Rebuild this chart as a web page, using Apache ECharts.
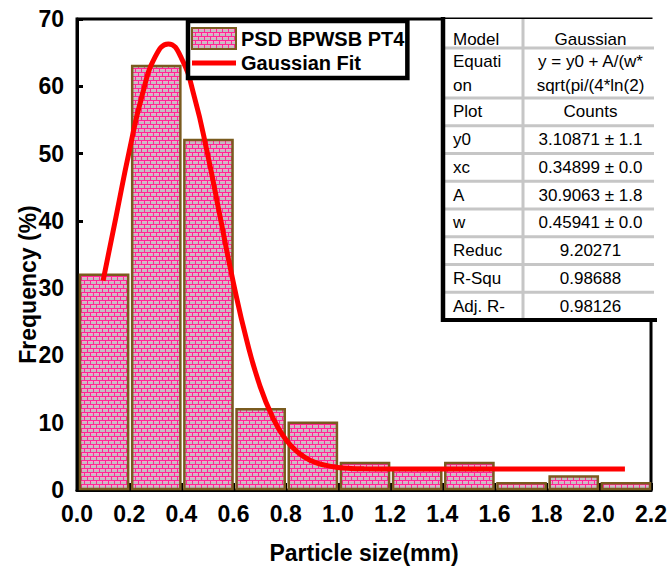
<!DOCTYPE html>
<html><head><meta charset="utf-8">
<script src="https://cdn.jsdelivr.net/npm/echarts@6/dist/echarts.min.js"></script>
<style>html,body{margin:0;padding:0;background:#fff}#c{width:670px;height:569px}</style>
</head><body><div id="c"></div>
<script>
// ---- data ----
const binStart = [0.0, 0.2, 0.4, 0.6, 0.8, 1.0, 1.2, 1.4, 1.6, 1.8, 2.0];
const binEnd   = [0.2, 0.4, 0.6, 0.8, 1.0, 1.2, 1.4, 1.6, 1.8, 2.0, 2.2];
const frequency = [32, 63, 52, 12, 10, 4, 3, 4, 1, 2, 1];
const fitX = [0.10, 0.15, 0.20, 0.25, 0.30, 0.35, 0.40, 0.45, 0.50, 0.55, 0.60, 0.65, 0.70, 0.75, 0.80, 0.85, 0.90, 0.95, 1.00, 1.05, 1.10, 1.20, 1.30, 1.50, 1.70, 1.90, 2.10];
const fitY = [31.1, 40.7, 50.3, 58.7, 64.4, 66.3, 64.2, 58.4, 50.0, 40.3, 30.7, 22.3, 15.6, 10.8, 7.5, 5.5, 4.3, 3.7, 3.35, 3.2, 3.15, 3.12, 3.11, 3.11, 3.11, 3.11, 3.11];
const barName = 'PSD BPWSB PT4';
const fitName = 'Gaussian Fit';
const xAxisTitle = 'Particle size(mm)';
const yAxisTitle = 'Frequency (%)';
const tableLabels = ['Model', 'Equati\non', 'Plot', 'y0', 'xc', 'A', 'w', 'Reduc', 'R-Squ', 'Adj. R-'];
const tableValues = ['Gaussian', 'y = y0 + A/(w*\nsqrt(pi/(4*ln(2)', 'Counts', '3.10871 \u00b1 1.1', '0.34899 \u00b1 0.0', '30.9063 \u00b1 1.8', '0.45941 \u00b1 0.0', '9.20271', '0.98688', '0.98126'];

// ---- brick pattern ----
function makePattern() {
  const c = document.createElement('canvas');
  c.width = 12; c.height = 8;
  const g = c.getContext('2d');
  g.fillStyle = '#f7a3cd'; g.fillRect(0, 0, 12, 8);
  g.fillStyle = '#ff2696';
  g.fillRect(0, 0, 12, 1); g.fillRect(0, 4, 12, 1);
  g.fillRect(0, 1, 1, 3); g.fillRect(6, 1, 1, 3);
  g.fillRect(3, 5, 1, 3); g.fillRect(9, 5, 1, 3);
  g.fillStyle = '#c4bec1';
  g.fillRect(1, 2, 5, 2); g.fillRect(7, 2, 5, 2);
  g.fillRect(0, 6, 3, 2); g.fillRect(4, 6, 5, 2); g.fillRect(10, 6, 2, 2);
  return c.toDataURL();
}
const patternURL = makePattern();
const brickFill = { image: patternURL, repeat: 'repeat' };
const brown = '#7a5b1f';
const FONT = '"Liberation Sans", Arial, sans-serif';

const chart = echarts.init(document.getElementById('c'), null, { renderer: 'svg' });

// table graphic
const tLeft = 443, tRight = 654, tMid = 523, tTop = 19;
const rowH = [29, 50, 27.75, 27.75, 27.75, 27.75, 27.75, 27.75, 27.75, 27.75];
const tableEls = [];
let yy = tTop;
const bounds = [];
rowH.forEach(h => { bounds.push([yy, yy + h]); yy += h; });
const tBottom = yy;
tableEls.push({ type: 'rect', shape: { x: tLeft, y: tTop, width: tRight - tLeft, height: tBottom - tTop }, style: { fill: '#fff' } });
bounds.slice(0, -1).forEach(b => {
  tableEls.push({ type: 'line', shape: { x1: tLeft, y1: b[1], x2: tRight, y2: b[1] }, style: { stroke: '#c6c6c6', lineWidth: 3 } });
});
tableEls.push({ type: 'line', shape: { x1: tMid, y1: tTop, x2: tMid, y2: tBottom }, style: { stroke: '#c6c6c6', lineWidth: 3 } });
tableEls.push({ type: 'line', shape: { x1: tLeft, y1: tTop - 2, x2: tLeft, y2: tBottom + 2 }, style: { stroke: '#000', lineWidth: 4.5 } });
tableEls.push({ type: 'line', shape: { x1: tLeft - 2, y1: tBottom, x2: tRight + 3, y2: tBottom }, style: { stroke: '#000', lineWidth: 4 } });
tableLabels.forEach((t, i) => {
  const b = bounds[i];
  const cy = (b[0] + b[1]) / 2 + (i === 0 ? 6 : 0);
  tableEls.push({ type: 'text', x: tLeft + 10, y: cy, style: { text: t, font: '17px ' + FONT, fill: '#000', align: 'left', verticalAlign: 'middle', lineHeight: 24 } });
  tableEls.push({ type: 'text', x: (tMid + tRight) / 2 + 2, y: cy, style: { text: tableValues[i], font: '17px ' + FONT, fill: '#000', align: 'center', verticalAlign: 'middle', lineHeight: 24 } });
});

const option = {
  animation: false,
  backgroundColor: '#fff',
  grid: { left: 77, right: 16, top: 19, bottom: 79, show: true, borderColor: '#000', borderWidth: 3, backgroundColor: 'transparent' },
  legend: {
    orient: 'vertical', left: 188, top: 21,
    borderColor: '#000', borderWidth: 4.5, padding: [6, 3, 5, 3],
    itemWidth: 44, itemHeight: 21, itemGap: 3,
    backgroundColor: '#fff',
    textStyle: { fontFamily: FONT, fontWeight: 'bold', fontSize: 20, color: '#000' },
    data: [
      { name: barName, icon: 'rect', itemStyle: { color: brickFill, borderColor: brown, borderWidth: 2 } },
      { name: fitName, icon: 'path://M0,0H44V5H0Z', itemStyle: { color: '#ff0000', borderWidth: 0 } }
    ]
  },
  xAxis: {
    type: 'value', min: 0, max: 2.2, interval: 0.2,
    name: xAxisTitle, nameLocation: 'middle', nameGap: 51, nameMoveOverlap: false,
    nameTextStyle: { fontFamily: FONT, fontWeight: 'bold', fontSize: 23, color: '#000' },
    axisLine: { show: true, lineStyle: { color: '#000', width: 3 } },
    axisTick: { show: true, inside: true, length: 7, lineStyle: { color: '#000', width: 3 } },
    axisLabel: { margin: 12, fontFamily: FONT, fontWeight: 'bold', fontSize: 23, color: '#000', formatter: v => v.toFixed(1) },
    splitLine: { show: false }
  },
  yAxis: {
    type: 'value', min: 0, max: 70, interval: 10,
    name: yAxisTitle, nameLocation: 'middle', nameGap: 38, nameMoveOverlap: false,
    nameTextStyle: { fontFamily: FONT, fontWeight: 'bold', fontSize: 23, color: '#000', padding: [0, 60, 0, 0] },
    axisLine: { show: true, lineStyle: { color: '#000', width: 3 } },
    axisTick: { show: true, inside: true, length: 6, lineStyle: { color: '#000', width: 3 } },
    axisLabel: { margin: 13, fontFamily: FONT, fontWeight: 'bold', fontSize: 23, color: '#000' },
    splitLine: { show: false }
  },
  series: [
    {
      name: barName, type: 'custom', z: 2,
      itemStyle: { color: brickFill, borderColor: brown, borderWidth: 2 },
      data: binStart.map((s, i) => [s, binEnd[i], frequency[i]]),
      encode: { x: [0, 1], y: 2 },
      renderItem: function (params, api) {
        const p0 = api.coord([api.value(0), api.value(2)]);
        const p1 = api.coord([api.value(1), 0]);
        return {
          type: 'rect',
          shape: { x: p0[0] + 3, y: p0[1], width: p1[0] - p0[0] - 4, height: p1[1] - p0[1] - 1 },
          style: { fill: brickFill, stroke: brown, lineWidth: 2.5 }
        };
      }
    },
    {
      name: fitName, type: 'line', z: 3, smooth: true, symbol: 'none',
      lineStyle: { color: '#ff0000', width: 5 },
      itemStyle: { color: '#ff0000' },
      data: fitX.map((x, i) => [x, fitY[i]])
    }
  ],
  graphic: [{ type: 'group', z: 100, children: tableEls }]
};
chart.setOption(option);
</script>
</body></html>
